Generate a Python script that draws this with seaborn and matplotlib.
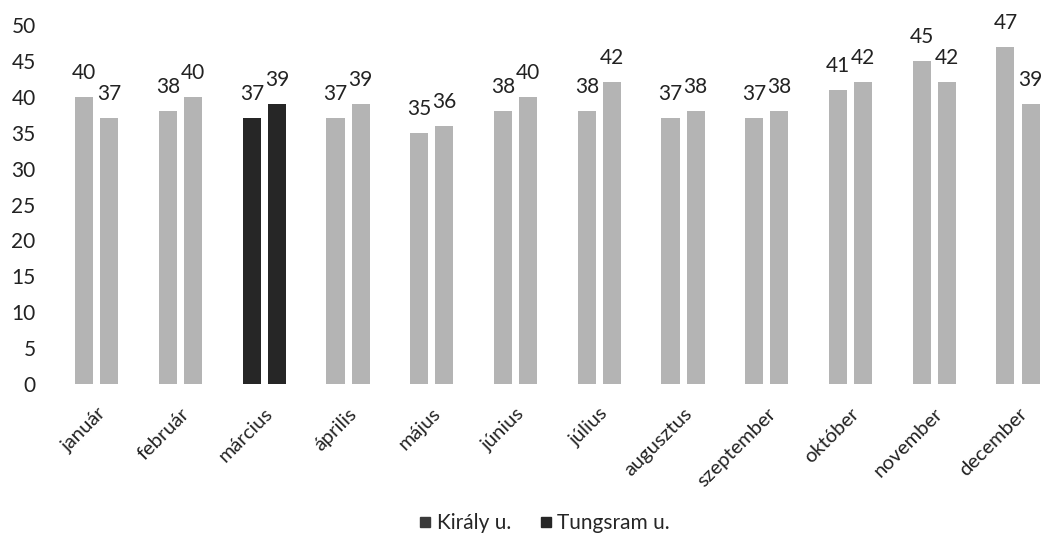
import pandas as pd
import seaborn as sns
import matplotlib.pyplot as plt
from matplotlib.lines import Line2D

months = ['január', 'február', 'március', 'április', 'május', 'június',
          'július', 'augusztus', 'szeptember', 'október', 'november', 'december']
kiraly = [40, 38, 37, 37, 35, 38, 38, 37, 37, 41, 45, 47]
tungsram = [37, 40, 39, 39, 36, 40, 42, 38, 38, 42, 42, 39]
series = ['Király u.', 'Tungsram u.']
highlight = 'március'

df = pd.DataFrame({
    'honap': months * 2,
    'ertek': kiraly + tungsram,
    'hely': [series[0]] * len(months) + [series[1]] * len(months),
})

sns.set_style('white')
plt.rcParams['font.family'] = ['Lato', 'DejaVu Sans']

fig = plt.figure(figsize=(10.44, 5.46), dpi=100)
ax = fig.add_axes([0.0527, 0.2967, 0.9625, 0.6575])

gray = '#b4b4b4'
dark = '#262626'
sns.barplot(data=df, x='honap', y='ertek', hue='hely', order=months,
            hue_order=series, palette=[gray, gray], width=0.6, gap=0.28,
            legend=False, ax=ax, linewidth=0)

# márciusi oszlopok feketével
hi = months.index(highlight)
for p in ax.patches:
    if round(p.get_x() + p.get_width() / 2) == hi:
        p.set_facecolor(dark)

# értékcímkék
for p in ax.patches:
    h = p.get_height()
    ax.annotate(f'{h:.0f}', (p.get_x() + p.get_width() / 2, h),
                xytext=(0, 24), textcoords='offset pixels',
                ha='center', va='center', fontsize=15, color='#222222',
                annotation_clip=False)

ax.set_ylim(0, 50)
ax.set_xlim(-0.5, len(months) - 0.5)
ax.set_yticks(range(0, 51, 5))
ax.set_xlabel('')
ax.set_ylabel('')
sns.despine(ax=ax, left=True, bottom=True)
ax.tick_params(axis='y', length=0, pad=14, labelsize=15, labelcolor='#222222')
ax.tick_params(axis='x', length=0, pad=15, labelsize=14.5, labelcolor='#222222')
plt.setp(ax.get_xticklabels(), rotation=45, ha='right', rotation_mode='anchor')

handles = [Line2D([], [], marker='s', linestyle='', markersize=7, color='#3a3a3a'),
           Line2D([], [], marker='s', linestyle='', markersize=7, color=dark)]
fig.legend(handles, series, loc='center', bbox_to_anchor=(0.522, 0.042),
           ncol=2, frameon=False, fontsize=15, handlelength=0.5,
           handletextpad=0.3, columnspacing=1.4)

fig.savefig('out.png', dpi=100)
